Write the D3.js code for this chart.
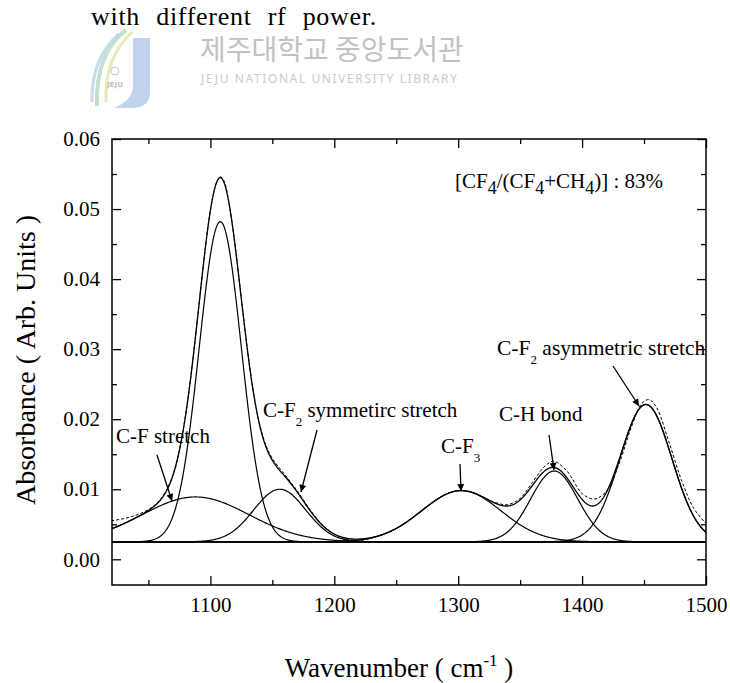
<!DOCTYPE html>
<html>
<head>
<meta charset="utf-8">
<script src="https://cdn.jsdelivr.net/npm/d3@7"></script>
<style>
  body { margin: 0; background: #fff; }
  svg { display: block; }
  .serif, .serif text { font-family: 'Liberation Serif', 'Times New Roman', serif; }
</style>
</head>
<body>
<svg id="chart" width="730" height="683"></svg>
<script>
// Gaussian components of the fitted FTIR spectrum (CF4 fraction 83%)
const peakLabels  = ["C-F stretch", "C-F (main)", "C-F2 symmetric", "C-F3", "C-H bond", "C-F2 asymmetric"];
const peakCenters = [1088, 1108, 1156, 1302.5, 1377.5, 1451.5];      // cm-1
const peakHeights = [0.0064, 0.0457, 0.0075, 0.0073, 0.0101, 0.0196]; // above baseline
const peakSigmas  = [43, 17, 21, 32, 19, 21];                         // cm-1
const baselineLevel = 0.0025;

// Measured absorbance spectrum (dashed)
const measuredWavenumber = [1020, 1030, 1040, 1050, 1060, 1070, 1075, 1080, 1085, 1090, 1095, 1100,
  1105, 1108, 1111, 1115, 1120, 1125, 1130, 1135, 1140, 1145, 1150, 1160, 1170, 1180, 1190, 1200,
  1210, 1220, 1230, 1240, 1250, 1260, 1270, 1280, 1290, 1300, 1310, 1320, 1330, 1340, 1350, 1360,
  1370, 1377, 1385, 1390, 1400, 1410, 1420, 1430, 1440, 1448, 1454, 1460, 1470, 1480, 1490, 1500];
const measuredAbsorbance = [0.0055, 0.0058, 0.0063, 0.0071, 0.0086, 0.0121, 0.0156, 0.0206, 0.0272,
  0.0350, 0.0430, 0.0498, 0.0538, 0.0546, 0.0540, 0.0509, 0.0447, 0.0372, 0.0298, 0.0236, 0.0191,
  0.0162, 0.0144, 0.0121, 0.0098, 0.0072, 0.0050, 0.0036, 0.0029, 0.0027, 0.0030, 0.0036, 0.0044,
  0.0055, 0.0069, 0.0082, 0.0093, 0.0098, 0.0096, 0.0089, 0.0081, 0.0078, 0.0087, 0.0110, 0.0133,
  0.0140, 0.0131, 0.0121, 0.0094, 0.0086, 0.0098, 0.0137, 0.0190, 0.0222, 0.0228, 0.0217, 0.0168,
  0.0114, 0.0073, 0.0051];

// Axis ticks
const xMajorTicks = [1100, 1200, 1300, 1400, 1500];
const xMinorTicks = [1050, 1150, 1250, 1350, 1450];
const yMajorTicks = [0.00, 0.01, 0.02, 0.03, 0.04, 0.05, 0.06];
const yMinorTicks = [0.005, 0.015, 0.025, 0.035, 0.045, 0.055];

const SERIF = "'Liberation Serif', 'Times New Roman', serif";
const svg = d3.select("#chart");

const plot = { left: 112, right: 706, top: 139, bottom: 585 };
const x = d3.scaleLinear().domain([1020.6, 1500]).range([plot.left, plot.right]);
const y = d3.scaleLinear().domain([-0.00367, 0.06]).range([plot.bottom, plot.top]);

// ---------- library watermark ----------
const wm = svg.append("g").attr("class", "watermark");
wm.append("path")
  .attr("d", "M133,38 L150,38 L150,92 Q150,108 131,108 L114,108 Q131,101 133,88 Z")
  .attr("fill", "#b5cbe8").attr("opacity", 0.85);
wm.append("path").attr("d", "M126,30 Q95,54 97,106").attr("fill", "none")
  .attr("stroke", "#b9dcc0").attr("stroke-width", 4).attr("opacity", 0.85);
wm.append("path").attr("d", "M132,32 Q104,58 106,102").attr("fill", "none")
  .attr("stroke", "#dfe6a8").attr("stroke-width", 3).attr("opacity", 0.85);
wm.append("path").attr("d", "M119,34 Q91,58 92,102").attr("fill", "none")
  .attr("stroke", "#b8d2ee").attr("stroke-width", 3).attr("opacity", 0.8);
wm.append("circle").attr("cx", 115).attr("cy", 71).attr("r", 4)
  .attr("fill", "none").attr("stroke", "#c8c8c8").attr("stroke-width", 1);
wm.append("text").attr("x", 115).attr("y", 87).attr("text-anchor", "middle")
  .attr("font-family", "'DejaVu Sans', sans-serif").attr("font-size", 7)
  .attr("font-weight", "bold").attr("fill", "#bdbdbd").text("JEJU");
wm.append("text").attr("x", 200).attr("y", 60)
  .attr("font-family", "'Noto Sans CJK KR', sans-serif").attr("font-size", 28)
  .attr("fill", "#c2c2c2").text("제주대학교 중앙도서관");
wm.append("text").attr("x", 201).attr("y", 83)
  .attr("font-family", "'Noto Sans', sans-serif").attr("font-size", 12)
  .attr("letter-spacing", 1.6).attr("fill", "#cbcbcb")
  .text("JEJU NATIONAL UNIVERSITY LIBRARY");

// ---------- caption line ----------
svg.append("text").attr("x", 91).attr("y", 25)
  .style("font-family", SERIF).attr("font-size", 26)
  .attr("letter-spacing", 0.7).attr("word-spacing", 9)
  .text("with different rf power.");

// ---------- axes ----------
function styleAxis(g) {
  g.attr("font-family", null).attr("font-size", null).attr("class", "serif");
  g.select(".domain").remove();
  g.selectAll(".tick line").attr("stroke", "#000").attr("stroke-width", 1.3);
  g.selectAll("text").style("font-family", SERIF).style("font-size", "21px").attr("fill", "#000");
}
svg.append("g").attr("transform", `translate(0,${plot.bottom})`)
  .call(d3.axisBottom(x).tickValues(xMajorTicks).tickSize(-9).tickSizeOuter(0)
    .tickPadding(12).tickFormat(d3.format("d"))).call(styleAxis);
svg.append("g").attr("transform", `translate(0,${plot.bottom})`)
  .call(d3.axisBottom(x).tickValues(xMinorTicks).tickSize(-5).tickSizeOuter(0).tickFormat("")).call(styleAxis);
svg.append("g").attr("transform", `translate(0,${plot.top})`)
  .call(d3.axisTop(x).tickValues(xMajorTicks).tickSize(-9).tickSizeOuter(0).tickFormat("")).call(styleAxis);
svg.append("g").attr("transform", `translate(0,${plot.top})`)
  .call(d3.axisTop(x).tickValues(xMinorTicks).tickSize(-5).tickSizeOuter(0).tickFormat("")).call(styleAxis);
svg.append("g").attr("transform", `translate(${plot.left},0)`)
  .call(d3.axisLeft(y).tickValues(yMajorTicks).tickSize(-9).tickSizeOuter(0)
    .tickPadding(12).tickFormat(d3.format(".2f"))).call(styleAxis);
svg.append("g").attr("transform", `translate(${plot.left},0)`)
  .call(d3.axisLeft(y).tickValues(yMinorTicks).tickSize(-5).tickSizeOuter(0).tickFormat("")).call(styleAxis);
svg.append("g").attr("transform", `translate(${plot.right},0)`)
  .call(d3.axisRight(y).tickValues(yMajorTicks).tickSize(-9).tickSizeOuter(0).tickFormat("")).call(styleAxis);
svg.append("g").attr("transform", `translate(${plot.right},0)`)
  .call(d3.axisRight(y).tickValues(yMinorTicks).tickSize(-5).tickSizeOuter(0).tickFormat("")).call(styleAxis);

// frame
svg.append("rect")
  .attr("x", plot.left).attr("y", plot.top)
  .attr("width", plot.right - plot.left).attr("height", plot.bottom - plot.top)
  .attr("fill", "none").attr("stroke", "#000").attr("stroke-width", 1.5);

// axis titles
const xTitle = svg.append("text").attr("x", 399).attr("y", 677).attr("text-anchor", "middle")
  .style("font-family", SERIF).attr("font-size", 27);
xTitle.append("tspan").text("Wavenumber ( cm");
xTitle.append("tspan").attr("font-size", 17).attr("dy", -11).text("-1");
xTitle.append("tspan").attr("dy", 11).text(" )");

svg.append("text")
  .attr("transform", "translate(35,360) rotate(-90)")
  .attr("text-anchor", "middle")
  .style("font-family", SERIF).attr("font-size", 28)
  .text("Absorbance ( Arb. Units )");

// ---------- spectra ----------
svg.append("clipPath").attr("id", "plot-clip").append("rect")
  .attr("x", plot.left).attr("y", plot.top)
  .attr("width", plot.right - plot.left).attr("height", plot.bottom - plot.top);
const curves = svg.append("g").attr("clip-path", "url(#plot-clip)");

const gauss = (w, i) =>
  peakHeights[i] * Math.exp(-((w - peakCenters[i]) ** 2) / (2 * peakSigmas[i] ** 2));
const [w0, w1] = x.domain();
const grid = d3.range(0, 961).map(k => w0 + k * (w1 - w0) / 960);
const line = d3.line().x(d => x(d[0])).y(d => y(d[1]));

// baseline
curves.append("path")
  .attr("d", line([[w0, baselineLevel], [w1, baselineLevel]]))
  .attr("fill", "none").attr("stroke", "#000").attr("stroke-width", 1.2);

// individual components
peakCenters.forEach((c, i) => {
  curves.append("path")
    .attr("d", line(grid.map(w => [w, baselineLevel + gauss(w, i)])))
    .attr("fill", "none").attr("stroke", "#000").attr("stroke-width", 1.2);
});

// measured spectrum (dashed)
const measured = measuredWavenumber.map((w, i) => [w, measuredAbsorbance[i]]);
curves.append("path")
  .attr("d", d3.line().x(d => x(d[0])).y(d => y(d[1])).curve(d3.curveCatmullRom.alpha(0.5))(measured))
  .attr("fill", "none").attr("stroke", "#000").attr("stroke-width", 1)
  .attr("stroke-dasharray", "3,2");

// cumulative fit
curves.append("path")
  .attr("d", line(grid.map(w => [w, baselineLevel + d3.sum(peakCenters, (c, i) => gauss(w, i))])))
  .attr("fill", "none").attr("stroke", "#000").attr("stroke-width", 1.3);

// ---------- annotations ----------
svg.append("defs").append("marker")
  .attr("id", "head").attr("viewBox", "0 0 10 10")
  .attr("refX", 10).attr("refY", 5)
  .attr("markerUnits", "userSpaceOnUse")
  .attr("markerWidth", 11).attr("markerHeight", 7)
  .attr("orient", "auto")
  .append("path").attr("d", "M0,0 L10,5 L0,10 Z").attr("fill", "#000");

// parts: plain strings, or {subscript, size, shift} for lowered characters
function label(xp, yp, parts, size = 21) {
  const t = svg.append("text").attr("x", xp).attr("y", yp)
    .style("font-family", SERIF).attr("font-size", size);
  let pending = 0;
  parts.forEach(p => {
    if (typeof p === "string") {
      t.append("tspan").attr("dy", pending).text(p);
      pending = 0;
    } else {
      const shift = p.shift || 9;
      t.append("tspan").attr("font-size", p.size || 13).attr("dy", pending + shift).text(p.subscript);
      pending = -shift;
    }
  });
  return t;
}
function arrow(x1, y1, x2, y2) {
  svg.append("line").attr("x1", x1).attr("y1", y1).attr("x2", x2).attr("y2", y2)
    .attr("stroke", "#000").attr("stroke-width", 1.3).attr("marker-end", "url(#head)");
}

const sub4 = { subscript: "4", size: 18, shift: 6 };
label(455, 188, ["[CF", sub4, "/(CF", sub4, "+CH", sub4, ")] : 83%"]);

label(116, 443, ["C-F stretch"]);
arrow(157, 455, 172, 501);

label(263, 417, ["C-F", { subscript: "2" }, " symmetirc stretch"]);
arrow(317, 430, 301, 492);

label(441, 453, ["C-F", { subscript: "3" }]);
arrow(460, 464, 461, 491);

label(499, 421, ["C-H bond"]);
arrow(549, 435, 554, 470);

label(497, 355, ["C-F", { subscript: "2" }, " asymmetric stretch"], 21.5);
arrow(613, 366, 639, 406);
</script>
</body>
</html>
